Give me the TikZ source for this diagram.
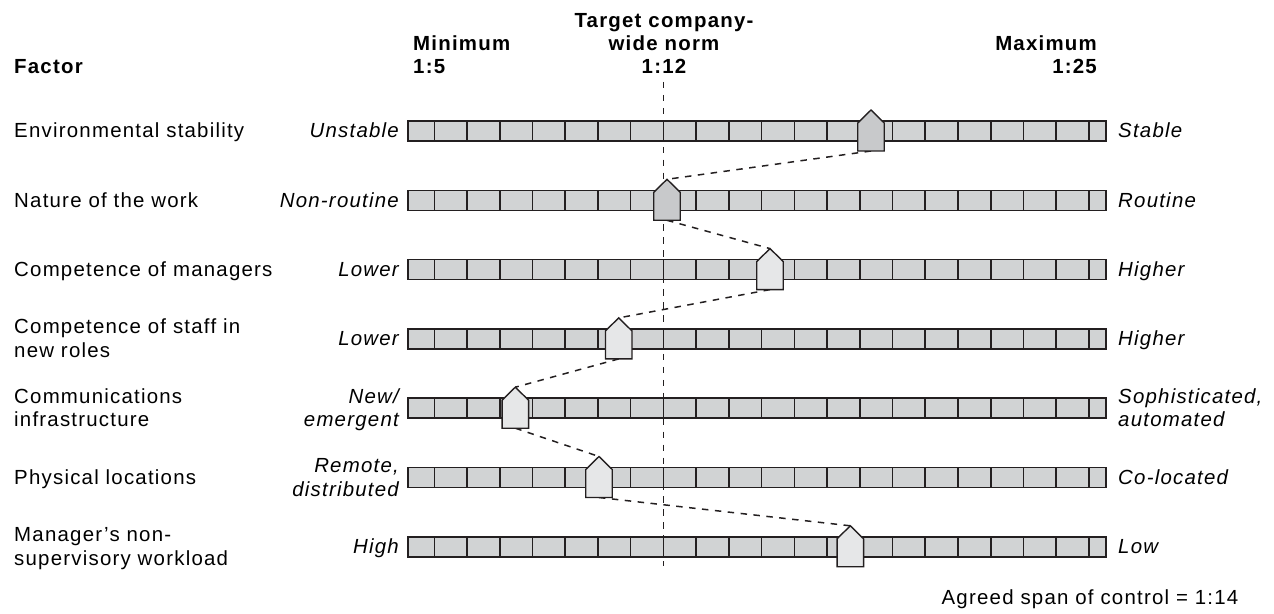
\documentclass[tikz,border=0pt]{standalone}
\usepackage{fontspec}
\setmainfont{Liberation Sans}[LetterSpace=6]
\definecolor{cellgray}{RGB}{209,211,212}
\definecolor{ptrdark}{RGB}{200,201,203}
\definecolor{ptrlight}{RGB}{230,231,232}
\definecolor{inkline}{RGB}{35,31,32}

\begin{document}
\begin{tikzpicture}[
    x=1bp, y=-1bp,
    every node/.style={inner sep=0pt},
    txt/.style={font=\fontsize{20.5}{23.5}\selectfont},
    heading/.style={font=\fontsize{20.5}{23.5}\selectfont\bfseries},
    factor/.style={txt, anchor=base west, align=left},
    lowpole/.style={font=\fontsize{20.5}{23.5}\selectfont\itshape, anchor=base east, align=right},
    highpole/.style={font=\fontsize{20.5}{23.5}\selectfont\itshape, anchor=base west, align=left},
    bar/.style={draw=inkline, line width=1.6pt, fill=cellgray},
    pointer/.style={draw=inkline, line width=1.4pt, fill=#1},
    norm/.style={draw=inkline, line width=1.5pt, dash pattern=on 6.5pt off 6.5pt},
    link/.style={draw=inkline, line width=1.5pt, dash pattern=on 6.5pt off 6.5pt}
]
\useasboundingbox (0,0) rectangle (1274,614);

% headings
\node[heading, anchor=base west] (factor) at (14,74) {Factor};
\node[heading, anchor=base west, align=left] (minimum) at (413,74) {Minimum\\1:5};
\node[heading, anchor=base, align=center] (target) at (664,74) {Target company-\\wide norm\\1:12};
\node[heading, anchor=base east, align=right] (maximum) at (1097,74) {Maximum\\1:25};

% target norm
\coordinate (normtop) at (663.4,82);
\coordinate (normbot) at (663.4,566);
\draw[norm] (normtop) -- (normbot);

% scales
\foreach \y in {131,200.3,269.6,338.9,408.2,477.5,546.8}{
  \draw[bar] (408,\y-10) rectangle (1106,\y+10);
  \foreach \k in {0,...,20}
    \draw[bar, fill=none] (434.3+\k*32.73,\y-10) -- ++(0,20);
}

% factors
\node[factor] (f1) at (14,138) {Environmental stability};
\node[factor] (f2) at (14,207.3) {Nature of the work};
\node[factor] (f3) at (14,276.6) {Competence of managers};
\node[factor] (f4) at (14,357.4) {Competence of staff in\\new roles};
\node[factor] (f5) at (14,426.7) {Communications\\infrastructure};
\node[factor] (f6) at (14,484.5) {Physical locations};
\node[factor] (f7) at (14,565.3) {Manager’s non-\\supervisory workload};

% left poles
\node[lowpole] (lo1) at (399,138) {Unstable};
\node[lowpole] (lo2) at (399,207.3) {Non-routine};
\node[lowpole] (lo3) at (399,276.6) {Lower};
\node[lowpole] (lo4) at (399,345.9) {Lower};
\node[lowpole] (lo5) at (399,426.7) {New/\\emergent};
\node[lowpole] (lo6) at (399,496) {Remote,\\distributed};
\node[lowpole] (lo7) at (399,553.8) {High};

% right poles
\node[highpole] (hi1) at (1118,138) {Stable};
\node[highpole] (hi2) at (1118,207.3) {Routine};
\node[highpole] (hi3) at (1118,276.6) {Higher};
\node[highpole] (hi4) at (1118,345.9) {Higher};
\node[highpole] (hi5) at (1118,426.7) {Sophisticated,\\automated};
\node[highpole] (hi6) at (1118,484.5) {Co-located};
\node[highpole] (hi7) at (1118,553.8) {Low};

% pointer ends
\coordinate (top1) at (871,110);   \coordinate (bot1) at (871,151);
\coordinate (top2) at (667,179.3); \coordinate (bot2) at (667,220.3);
\coordinate (top3) at (770,248.6); \coordinate (bot3) at (770,289.6);
\coordinate (top4) at (618.7,317.9); \coordinate (bot4) at (618.7,358.9);
\coordinate (top5) at (515.3,387.2); \coordinate (bot5) at (515.3,428.2);
\coordinate (top6) at (599,456.5); \coordinate (bot6) at (599,497.5);
\coordinate (top7) at (850.3,525.8); \coordinate (bot7) at (850.3,566.8);

\draw[link] (bot1) -- (top2);
\draw[link] (bot2) -- (top3);
\draw[link] (bot3) -- (top4);
\draw[link] (bot4) -- (top5);
\draw[link] (bot5) -- (top6);
\draw[link] (bot6) -- (top7);

\draw[pointer=ptrdark] (bot1) ++(-13.25,0) -- ++(0,-28) -- (top1) -- ++(13.25,13) -- ++(0,28) -- cycle;
\draw[pointer=ptrdark] (bot2) ++(-13.25,0) -- ++(0,-28) -- (top2) -- ++(13.25,13) -- ++(0,28) -- cycle;
\draw[pointer=ptrlight] (bot3) ++(-13.25,0) -- ++(0,-28) -- (top3) -- ++(13.25,13) -- ++(0,28) -- cycle;
\draw[pointer=ptrlight] (bot4) ++(-13.25,0) -- ++(0,-28) -- (top4) -- ++(13.25,13) -- ++(0,28) -- cycle;
\draw[pointer=ptrlight] (bot5) ++(-13.25,0) -- ++(0,-28) -- (top5) -- ++(13.25,13) -- ++(0,28) -- cycle;
\draw[pointer=ptrlight] (bot6) ++(-13.25,0) -- ++(0,-28) -- (top6) -- ++(13.25,13) -- ++(0,28) -- cycle;
\draw[pointer=ptrlight] (bot7) ++(-13.25,0) -- ++(0,-28) -- (top7) -- ++(13.25,13) -- ++(0,28) -- cycle;

\node[txt, anchor=base] (agreed) at (1090,604) {Agreed span of control = 1:14};
\end{tikzpicture}
\end{document}
